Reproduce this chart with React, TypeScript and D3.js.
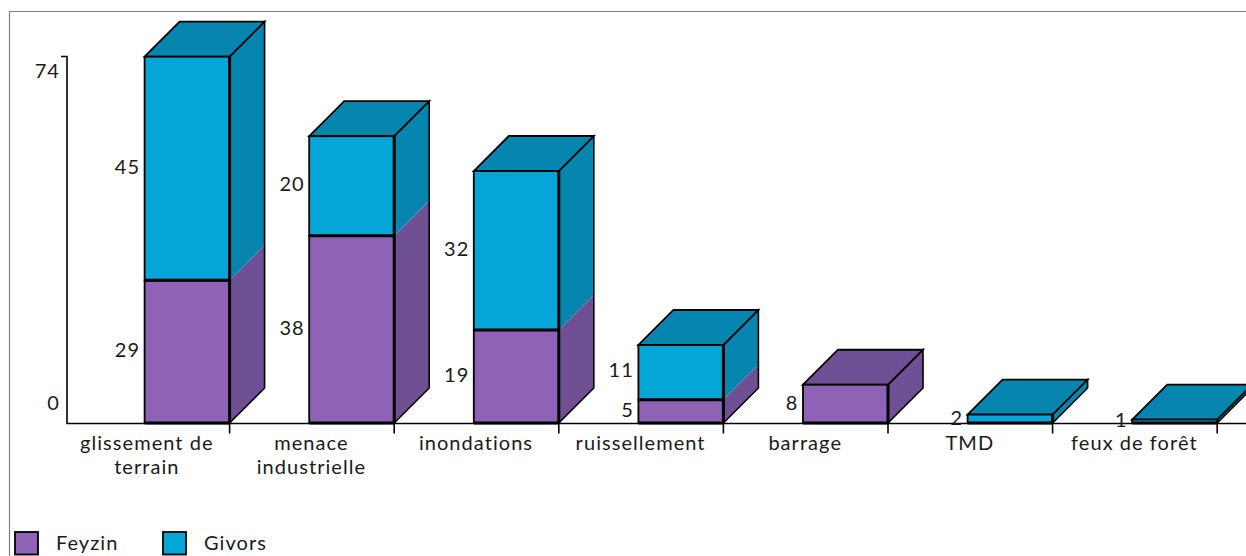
import React from "react";
import * as d3 from "d3";

const categories = ["glissement de terrain", "menace industrielle", "inondations", "ruissellement", "barrage", "TMD", "feux de forêt"];
const categoryLines = [["glissement de", "terrain"], ["menace", "industrielle"], ["inondations"], ["ruissellement"], ["barrage"], ["TMD"], ["feux de forêt"]];
const feyzin = [29, 38, 19, 5, 8, 0, 0];
const givors = [45, 20, 32, 11, 0, 2, 1];
const seriesNames = ["Feyzin", "Givors"];
const yTicks = [0, 74];

const frontColors = ["#8e63b6", "#04a6d8"];
const sideColors = ["#6f5094", "#0686ae"];
const stroke = "#000";
const font = "Lato, 'Open Sans', sans-serif";

const W = 1246, H = 556;
const axisY = 423.5, axisTop = 56.5, axisX = 67;
const depth = 35;

const y = d3.scaleLinear().domain([0, 74]).range([424.5, 56.7]);
const x = d3.scaleBand<string>().domain(categories).range([65, 65 + 164.6 * 7]);
const barW = 85;

// Segments stop on the axis line rather than running below it.
const clampY = (v: number) => Math.min(y(v), axisY - 0.5);
const poly = (pts: [number, number][]) => d3.line()(pts)! + "Z";

type Seg = { v0: number; v1: number; s: number };

function Bar({ name, segs }: { name: string; segs: Seg[] }) {
  const right = x(name)! + x.bandwidth();
  const left = right - barW;
  const topSeg = segs[segs.length - 1];
  const yt = y(topSeg.v1);
  const yb = axisY - 0.5;
  return (
    <g stroke={stroke} strokeLinejoin="miter">
      {segs.map((d) => (
        <path key={"side" + d.s} fill={sideColors[d.s]} stroke="none"
          d={poly([[right, clampY(d.v0)], [right + depth, clampY(d.v0) - depth], [right + depth, y(d.v1) - depth], [right, y(d.v1)]])} />
      ))}
      <path fill="none" strokeWidth={1.6}
        d={poly([[right, yb], [right + depth, yb - depth], [right + depth, yt - depth], [right, yt]])} />
      <path fill={sideColors[topSeg.s]} strokeWidth={1.8}
        d={poly([[left, yt], [left + depth, yt - depth], [right + depth, yt - depth], [right, yt]])} />
      {segs.map((d) => (
        <rect key={"front" + d.s} x={left} width={barW} y={y(d.v1)} height={clampY(d.v0) - y(d.v1)}
          fill={frontColors[d.s]} strokeWidth={1.8} />
      ))}
      {/* heavier strokes on the shared edges of each stack */}
      <line x1={right} x2={right} y1={yt} y2={yb} strokeWidth={3} />
      {segs.slice(1).map((d) => (
        <line key={"sep" + d.s} x1={left} x2={right} y1={y(d.v0)} y2={y(d.v0)} strokeWidth={3} />
      ))}
      <line x1={left} x2={right} y1={yb} y2={yb} strokeWidth={3} />
    </g>
  );
}

export default function App() {
  const stacks = categories.map((c, i) => {
    const segs: Seg[] = [];
    let acc = 0;
    [feyzin[i], givors[i]].forEach((v, s) => {
      if (v > 0) { segs.push({ v0: acc, v1: acc + v, s }); acc += v; }
    });
    return { name: c, segs };
  });
  const textStyle = { fontFamily: font, fontSize: 20, fill: "#1a1a1a", letterSpacing: 1.05 };

  return (
    <svg width={W} height={H} viewBox={`0 0 ${W} ${H}`}
      style={{ position: "absolute", left: 0, top: 0, display: "block", background: "#fff" }}>
      <path d={`M9.5 ${H}V11.5H${W}`} fill="none" stroke="#7f7f7f" strokeWidth={1.2} />

      {/* axes */}
      <g stroke={stroke} strokeWidth={1.6} fill="none">
        <path d={`M${axisX - 6} ${axisTop}H${axisX}V${axisY}H${W}`} />
        {categories.map((c) => {
          const tx = x(c)! + x.bandwidth();
          return <line key={c} x1={tx} x2={tx} y1={axisY} y2={axisY + 10} />;
        })}
      </g>

      {stacks.map((d) => <Bar key={d.name} name={d.name} segs={d.segs} />)}

      {/* value axis labels */}
      <g style={textStyle} textAnchor="end">
        {yTicks.map((t) => (
          <text key={t} x={60} y={t === 0 ? 410 : 78}>{t}</text>
        ))}
      </g>

      {/* segment values */}
      <g style={textStyle} textAnchor="end">
        {stacks.map((st) => st.segs.map((d) => {
          const left = x(st.name)! + x.bandwidth() - barW;
          return (
            <text key={st.name + d.s} x={left - 4.5} y={(y(d.v0) + y(d.v1)) / 2 + 5}>
              {d.v1 - d.v0}
            </text>
          );
        }))}
      </g>

      {/* category labels */}
      <g style={textStyle} textAnchor="middle">
        {categories.map((c, i) => (
          <text key={c} y={449.5}>
            {categoryLines[i].map((l, j) => (
              <tspan key={j} x={x(c)! + x.bandwidth() / 2 - 0.5} dy={j === 0 ? 0 : 24.5}>{l}</tspan>
            ))}
          </text>
        ))}
      </g>

      {/* legend */}
      <g style={textStyle}>
        {seriesNames.map((n, i) => {
          const lx = [15, 163][i];
          return (
            <g key={n}>
              <rect x={lx} y={532} width={23} height={22.5} fill={frontColors[i]} stroke={stroke} strokeWidth={1.8} />
              <text x={lx + 41} y={550}>{n}</text>
            </g>
          );
        })}
      </g>
    </svg>
  );
}
